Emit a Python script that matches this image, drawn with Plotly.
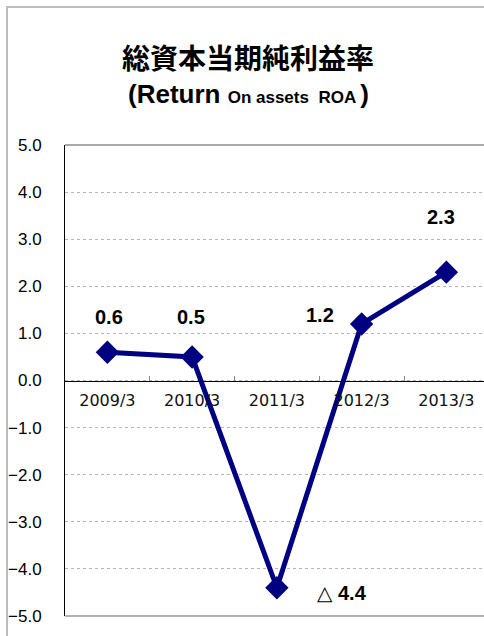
import plotly.graph_objects as go

# ---- data ----
categories = ["2009/3", "2010/3", "2011/3", "2012/3", "2013/3"]
roa = [0.6, 0.5, -4.4, 1.2, 2.3]
y_tick_values = [5, 4, 3, 2, 1, 0, -1, -2, -3, -4, -5]
title_main = "総資本当期純利益率"

# ---- layout geometry (pixels) ----
W, H = 484, 636
ML, MR, MT, MB = 65, 0, 145, 20
PW, PH = W - ML - MR, H - MT - MB


def px_x(p):
    return (p - ML) / PW


def px_y(p):
    return (H - MB - p) / PH


NAVY = "#000080"
CJK = "Noto Sans CJK JP, Noto Sans CJK SC, sans-serif"


def fmt(v):
    if v >= 0:
        return f"{v:.1f}"
    return ("<span style='font-family:DejaVu Sans;font-size:20px'>△</span> "
            + f"{abs(v):.1f}")


label_text = [fmt(v) for v in roa]
label_shift = [(2, 35), (-1, 40), (65, -5), (-42, 9), (-5, 55)]

fig = go.Figure()
fig.add_trace(go.Scatter(
    x=categories, y=roa, mode="lines+markers",
    line=dict(color=NAVY, width=5),
    marker=dict(symbol="diamond", size=18, color=NAVY),
    cliponaxis=False, showlegend=False, hoverinfo="skip",
))

annotations = []
for c, v, t, (dx, dy) in zip(categories, roa, label_text, label_shift):
    annotations.append(dict(
        x=c, y=v, xref="x", yref="y", text="<b>" + t + "</b>", showarrow=False,
        xshift=dx, yshift=dy, xanchor="center", yanchor="middle",
        font=dict(family="Liberation Sans, Arial, DejaVu Sans", size=20, color="#000"),
    ))

annotations.append(dict(
    x=px_x(248), y=px_y(57), xref="paper", yref="paper", showarrow=False,
    xanchor="center", yanchor="middle", text="<b>" + title_main + "</b>",
    font=dict(family=CJK, size=28, color="#000"),
))
annotations.append(dict(
    x=px_x(248), y=px_y(94), xref="paper", yref="paper", showarrow=False,
    xanchor="center", yanchor="middle",
    text="<b>(Return <span style='font-size:17px'>On assets&nbsp;&nbsp;ROA </span>)</b>",
    font=dict(family="Liberation Sans, Arial", size=26, color="#000"),
))

shapes = [
    # outer chart border
    dict(type="rect", xref="paper", yref="paper",
         x0=px_x(7), x1=px_x(W + 20), y0=px_y(H + 20), y1=px_y(7),
         line=dict(color="#bdbdbd", width=2), layer="below"),
    # plot frame top / bottom
    dict(type="line", xref="paper", yref="paper", x0=0, x1=1.05, y0=1, y1=1,
         line=dict(color="#555", width=1)),
    dict(type="line", xref="paper", yref="paper", x0=0, x1=1.05, y0=0, y1=0,
         line=dict(color="#666", width=1)),
]

fig.update_layout(
    width=W, height=H,
    margin=dict(l=ML, r=MR, t=MT, b=MB, pad=0, autoexpand=False),
    paper_bgcolor="white", plot_bgcolor="white",
    annotations=annotations, shapes=shapes,
    xaxis=dict(
        type="category", range=[-0.5, -0.5 + PW / 84.75],
        anchor="free", position=0.5, automargin=False,
        showline=True, linecolor="#000", linewidth=1,
        showgrid=False, zeroline=False,
        tickson="boundaries", ticks="inside", ticklen=5, tickcolor="#888",
        tickfont=dict(family="DejaVu Sans", size=16, color="#111"),
        ticklabelstandoff=5,
        fixedrange=True,
    ),
    yaxis=dict(
        range=[-5, 5], tickmode="array", tickvals=y_tick_values,
        tickformat=".1f", automargin=False,
        showline=True, linecolor="#000", linewidth=1,
        showgrid=True, gridcolor="#b5b5b5", griddash="dot", gridwidth=1,
        zeroline=False, ticks="",
        tickfont=dict(family="Liberation Sans, Arial", size=17, color="#000"),
        ticklabelstandoff=19,
        fixedrange=True,
    ),
)

fig.write_html(
    "out.html",
    config={"displayModeBar": False},
    post_script="document.body.style.margin='0';document.body.style.overflow='hidden';",
)
